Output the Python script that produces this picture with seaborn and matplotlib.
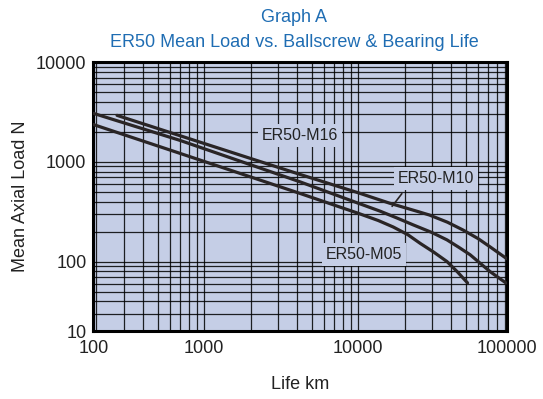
import numpy as np
import pandas as pd
import matplotlib
matplotlib.use("Agg")
import matplotlib.pyplot as plt
import matplotlib.ticker as mticker
import seaborn as sns

# curve values (life in km, load in N)
m16_life = [272, 1000, 4200, 10000, 16000, 24000, 29000, 38000, 48000, 60000, 72000, 92000]
m16_load = [2930, 1530, 748, 490, 385, 320, 293, 248, 207, 170, 140, 107]

m10_life = [191, 700, 4200, 10000, 13900, 18000, 22800, 30000, 37700, 45000, 53300, 62000, 72000, 91000]
m10_load = [3070, 1640, 630, 385, 320, 272, 233, 196, 165, 139, 117, 96, 79, 61]

m05_life = [191, 700, 4200, 10000, 13500, 16900, 21000, 25300, 31000, 37700, 44000, 51300]
m05_load = [2370, 1215, 482, 305, 258, 222, 186, 152, 124, 100, 79, 61]

x_tick_labels = ["100", "1000", "10000", "100000"]
y_tick_labels = ["10", "100", "1000", "10000"]

df = pd.concat([
    pd.DataFrame({"life": m16_life, "load": m16_load, "model": "ER50-M16"}),
    pd.DataFrame({"life": m10_life, "load": m10_load, "model": "ER50-M10"}),
    pd.DataFrame({"life": m05_life, "load": m05_load, "model": "ER50-M05"}),
])

sns.set_style("white")
plt.rcParams["font.family"] = ["Liberation Sans", "DejaVu Sans"]

bg = "#c5cee6"
line_col = "#2a2526"
title_col = "#1f6db3"

fig = plt.figure(figsize=(5.43, 3.99), dpi=100)
ax = fig.add_axes([0.172, 0.170, 0.761, 0.674])
ax.set_facecolor(bg)

ax.set_xscale("log")
ax.set_yscale("log")
xlim = (191, 92000)
ylim = (20, 10000)
ax.set_xlim(*xlim)
ax.set_ylim(*ylim)

# grid: every decade and sub-decade line in black
ax.xaxis.set_major_locator(mticker.FixedLocator([xlim[0], 1000, 10000, xlim[1]]))
ax.xaxis.set_major_formatter(mticker.FixedFormatter(x_tick_labels))
ax.yaxis.set_major_locator(mticker.FixedLocator([ylim[0], 100, 1000, 10000]))
ax.yaxis.set_major_formatter(mticker.FixedFormatter(y_tick_labels))
ax.xaxis.set_minor_locator(mticker.LogLocator(base=10, subs=np.arange(2, 10)))
ax.yaxis.set_minor_locator(mticker.LogLocator(base=10, subs=np.arange(2, 10)))
ax.xaxis.set_minor_formatter(mticker.NullFormatter())
ax.yaxis.set_minor_formatter(mticker.NullFormatter())
ax.grid(True, which="both", color="black", lw=0.9, alpha=0.85)
ax.set_axisbelow(True)
ax.tick_params(which="both", length=0, labelsize=13, colors="#222222")
ax.tick_params(axis="x", pad=6)
ax.tick_params(axis="y", pad=5)

sns.lineplot(data=df, x="life", y="load", hue="model", sort=False,
             palette=[line_col] * 3, lw=2.3, legend=False, ax=ax, zorder=3)

for s in ax.spines.values():
    s.set_visible(True)
    s.set_color("black")
    s.set_linewidth(2.2)

box = dict(facecolor=bg, edgecolor="none", pad=3)
ax.text(4200, 1840, "ER50-M16", fontsize=11.5, color="#222222",
        ha="center", va="center", bbox=box, zorder=4)
ax.text(32000, 676, "ER50-M10", fontsize=11.5, color="#222222",
        ha="center", va="center", bbox=box, zorder=4)
ax.text(10900, 117, "ER50-M05", fontsize=11.5, color="#222222",
        ha="center", va="center", bbox=box, zorder=4)
ax.annotate("", xy=(16200, 340), xytext=(19700, 505),
            arrowprops=dict(arrowstyle="-", color=line_col, lw=1.2), zorder=5)

ax.set_xlabel("Life km", fontsize=13, color="#222222", labelpad=14)
ax.set_ylabel("Mean Axial Load N", fontsize=13, color="#222222", labelpad=5)

fig.text(0.542, 0.955, "Graph A", fontsize=13, color=title_col,
         ha="center", va="center")
fig.text(0.542, 0.893, "ER50 Mean Load vs. Ballscrew & Bearing Life",
         fontsize=13, color=title_col, ha="center", va="center")

fig.savefig("out.png", dpi=100)
